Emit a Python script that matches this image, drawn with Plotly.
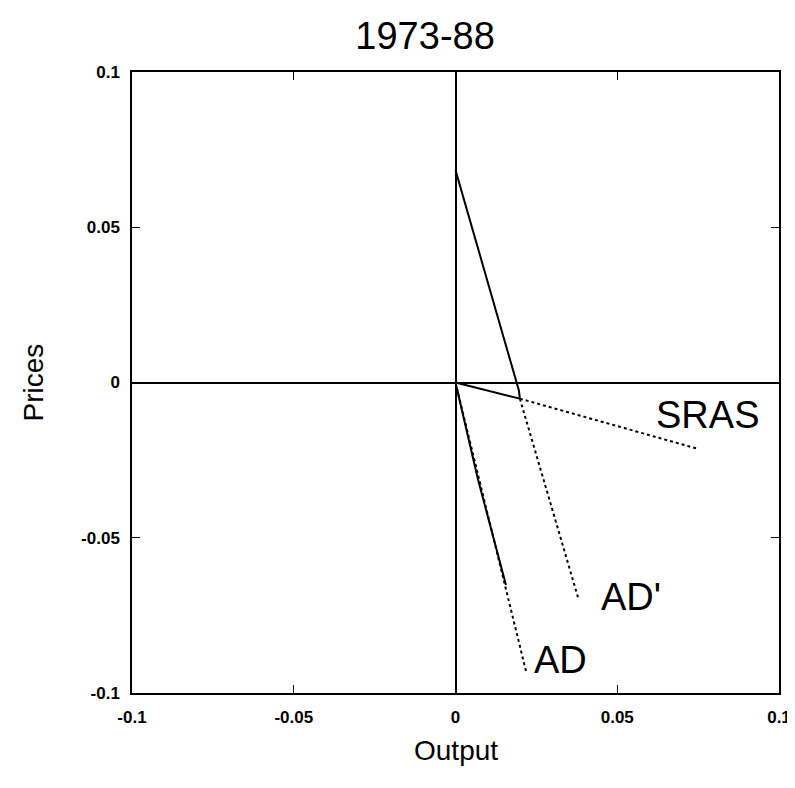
import plotly.graph_objects as go

# ---- data ----
tick_vals = [-0.1, -0.05, 0, 0.05, 0.1]
tick_text = ["-0.1", "-0.05", "0", "0.05", "0.1"]

# solid upper segment (from y-axis down to the kink)
upper_x = [0.0, 0.0196, 0.0199]
upper_y = [0.0684, -0.0026, -0.0052]

# SRAS solid part and dotted extension
sras_solid_x = [0.0, 0.0199]
sras_solid_y = [0.0, -0.0052]
sras_dot_x = [0.0199, 0.0747]
sras_dot_y = [-0.0052, -0.0213]

# AD' dotted
adp_x = [0.0199, 0.038]
adp_y = [-0.0052, -0.0697]

# AD solid and dotted
ad_solid_x = [0.0, 0.0069, 0.0156]
ad_solid_y = [0.0, -0.031, -0.0652]
ad_dot_x = [0.0, 0.022]
ad_dot_y = [0.0, -0.0939]

labels = ["SRAS", "AD'", "AD"]
label_x = [0.078, 0.0544, 0.0325]
label_y = [-0.0106, -0.069, -0.0894]

FONT = "Liberation Sans, Arial, sans-serif"

fig = go.Figure()

def add_line(x, y, dash, width):
    fig.add_trace(go.Scatter(x=x, y=y, mode="lines",
                             line=dict(color="black", width=width, dash=dash),
                             showlegend=False, hoverinfo="skip"))

add_line(upper_x, upper_y, "solid", 2)
add_line(sras_solid_x, sras_solid_y, "solid", 2)
add_line(sras_dot_x, sras_dot_y, "dot", 2)
add_line(adp_x, adp_y, "dot", 2)
add_line(ad_dot_x, ad_dot_y, "dot", 2)
add_line(ad_solid_x, ad_solid_y, "solid", 2)

for t, x, y in zip(labels, label_x, label_y):
    fig.add_annotation(x=x, y=y, text=t, showarrow=False, xanchor="center",
                       yanchor="middle", font=dict(family=FONT, size=38, color="black"))

axis_common = dict(
    range=[-0.1, 0.1], tickvals=tick_vals, ticktext=tick_text,
    showgrid=False, zeroline=True, zerolinecolor="black",
    showline=True, linecolor="black", linewidth=1.5, mirror="ticks",
    ticks="inside", ticklen=8, tickcolor="black", tickwidth=1.2,
    tickfont=dict(family=FONT, size=17, color="black", weight="bold"),
)

fig.update_xaxes(**axis_common, zerolinewidth=1.5, ticklabelstandoff=8)
fig.update_yaxes(**axis_common, zerolinewidth=2, ticklabelstandoff=7)

fig.add_annotation(x=0.5, y=0, xref="paper", yref="paper", yshift=-57,
                   text="Output", showarrow=False, xanchor="center", yanchor="middle",
                   font=dict(family=FONT, size=28, color="black"))
fig.add_annotation(x=0, y=0.5, xref="paper", yref="paper", xshift=-99,
                   text="Prices", showarrow=False, textangle=-90,
                   xanchor="center", yanchor="middle",
                   font=dict(family=FONT, size=28, color="black"))

fig.update_layout(
    width=795, height=788,
    margin=dict(l=124, r=16, t=64, b=103),
    paper_bgcolor="white", plot_bgcolor="white",
    title=dict(text="1973-88", x=0.453, xref="paper", xanchor="center",
               y=1 - 28 / 788, yref="container", yanchor="middle",
               font=dict(family=FONT, size=38, color="black")),
)

fig.write_html("out.html")
